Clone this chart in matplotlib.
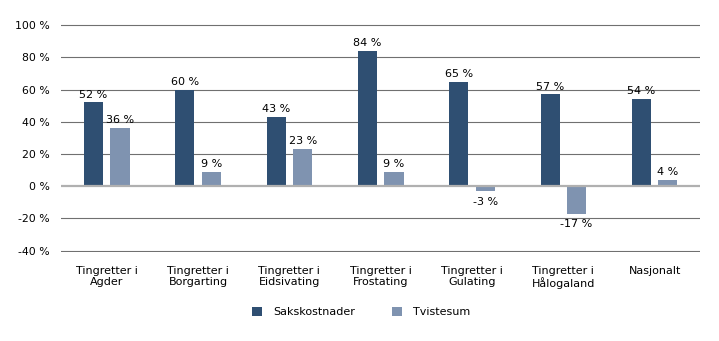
#!/usr/bin/env python3
import numpy as np
import matplotlib.pyplot as plt

categories = ["Tingretter i\nAgder", "Tingretter i\nBorgarting", "Tingretter i\nEidsivating",
              "Tingretter i\nFrostating", "Tingretter i\nGulating", "Tingretter i\nHålogaland",
              "Nasjonalt"]
sakskostnader = [52, 60, 43, 84, 65, 57, 54]
tvistesum = [36, 9, 23, 9, -3, -17, 4]
yticks = [-40, -20, 0, 20, 40, 60, 80, 100]

DARK = "#2f4f72"
LIGHT = "#7f93b0"

fig = plt.figure(figsize=(7.19, 3.41), dpi=100)
ax = fig.add_axes([0.085, 0.262, 0.889, 0.667])

x = np.arange(len(categories))
w = 0.21
off = 0.145
b1 = ax.bar(x - off, sakskostnader, w, color=DARK, label="Sakskostnader", zorder=3)
b2 = ax.bar(x + off, tvistesum, w, color=LIGHT, label="Tvistesum", zorder=3)

for rect, v in zip(b1, sakskostnader):
    ax.annotate(f"{v} %", (rect.get_x() + rect.get_width() / 2, v),
                xytext=(0, 2), textcoords="offset points", ha="center", va="bottom", fontsize=8)
for rect, v in zip(b2, tvistesum):
    if v >= 0:
        ax.annotate(f"{v} %", (rect.get_x() + rect.get_width() / 2, v),
                    xytext=(0, 2), textcoords="offset points", ha="center", va="bottom", fontsize=8)
    else:
        ax.annotate(f"{v} %", (rect.get_x() + rect.get_width() / 2, v),
                    xytext=(0, -4), textcoords="offset points", ha="center", va="top", fontsize=8)

ax.set_ylim(-40.6, 100.6)
ax.set_xlim(-0.5, len(categories) - 0.5)
ax.set_yticks(yticks)
ax.set_yticklabels([f"{t} %" for t in yticks], fontsize=7.8)
ax.set_xticks(x)
ax.set_xticklabels(categories, fontsize=8)
ax.tick_params(axis="y", length=0, pad=8)
ax.tick_params(axis="x", length=0, pad=10)
for t in yticks:
    if t == 0:
        ax.axhline(t, color="#b0b0b0", lw=1.6, zorder=4)
    else:
        ax.axhline(t, color="#707070", lw=0.8, zorder=1)
for s in ax.spines.values():
    s.set_visible(False)

fig.legend(handles=[b1, b2], loc="center", bbox_to_anchor=(0.502, 0.085), ncol=2,
           frameon=False, fontsize=8, handlelength=0.9, handleheight=0.9,
           columnspacing=3.3, handletextpad=1.0)

fig.savefig("out.png", dpi=100)
